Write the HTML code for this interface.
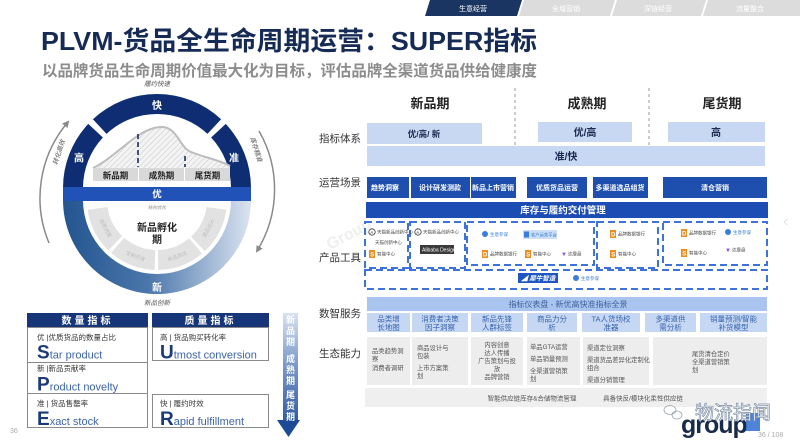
<!DOCTYPE html>
<html><head><meta charset="utf-8">
<style>
html,body{margin:0;padding:0;width:800px;height:448px;overflow:hidden;background:#fff}
svg{display:block}
text{font-family:"Liberation Sans","Noto Sans CJK SC",sans-serif}
</style></head>
<body>
<svg width="800" height="448" viewBox="0 0 800 448" xmlns="http://www.w3.org/2000/svg">
<defs>
  <pattern id="hatch" width="4" height="4" patternUnits="userSpaceOnUse" patternTransform="rotate(45)">
    <rect width="4" height="4" fill="#f3f3f3"/>
    <line x1="0" y1="0" x2="0" y2="4" stroke="#c8c8c8" stroke-width="1"/>
  </pattern>
  <linearGradient id="lowring" x1="63" y1="0" x2="251" y2="0" gradientUnits="userSpaceOnUse">
    <stop offset="0" stop-color="#24558f"/>
    <stop offset="0.45" stop-color="#4a76ab"/>
    <stop offset="1" stop-color="#dbe4f1"/>
  </linearGradient>
  <linearGradient id="varrow" x1="0" y1="313" x2="0" y2="437" gradientUnits="userSpaceOnUse">
    <stop offset="0" stop-color="#d8e2f1"/>
    <stop offset="0.4" stop-color="#7f9ccb"/>
    <stop offset="1" stop-color="#1d4a95"/>
  </linearGradient>
  <marker id="ar" markerWidth="8" markerHeight="8" refX="5" refY="4" orient="auto" markerUnits="userSpaceOnUse">
    <path d="M0,0.5 L7,4 L0,7.5 Z" fill="#8a8a8a"/>
  </marker>
</defs>

<!-- top tabs -->
<polygon points="430,0 522,0 517,16 425,16" fill="#1b3563"/>
<text x="473" y="11" font-size="7" fill="#fff" text-anchor="middle">生意经营</text>
<polygon points="524,0 615,0 610,16 519,16" fill="#dcdcdc"/>
<text x="566" y="11" font-size="7" fill="#fff" text-anchor="middle">全域营销</text>
<polygon points="617,0 706,0 701,16 612,16" fill="#dcdcdc"/>
<text x="658" y="11" font-size="7" fill="#fff" text-anchor="middle">深链经营</text>
<polygon points="708,0 800,0 800,16 703,16" fill="#dcdcdc"/>
<text x="750" y="11" font-size="7" fill="#fff" text-anchor="middle">流量整合</text>

<!-- title -->
<text x="41" y="50" font-size="26" font-weight="bold" fill="#152a55" textLength="496" lengthAdjust="spacingAndGlyphs">PLVM-货品全生命周期运营：SUPER指标</text>
<text x="42" y="76" font-size="15.5" font-weight="bold" fill="#8c8c8c" textLength="495" lengthAdjust="spacingAndGlyphs">以品牌货品生命周期价值最大化为目标，评估品牌全渠道货品供给健康度</text>

<!-- ================= LEFT CIRCLE ================= -->
<!-- gray arrows -->
<path d="M49,243 A117,117 0 0 1 68,122" fill="none" stroke="#8a8a8a" stroke-width="1.5" marker-end="url(#ar)"/>
<path d="M259,131 A117,117 0 0 1 257,251" fill="none" stroke="#8a8a8a" stroke-width="1.5" marker-end="url(#ar)"/>
<text x="157" y="86" font-size="6.5" font-style="italic" fill="#555" text-anchor="middle">履约快速</text>
<text x="157" y="305" font-size="6.5" font-style="italic" fill="#555" text-anchor="middle">新品创新</text>
<text transform="translate(61,153) rotate(-72)" font-size="6.5" font-style="italic" fill="#555" text-anchor="middle">转化高效</text>
<text transform="translate(254,150) rotate(72)" font-size="6.5" font-style="italic" fill="#555" text-anchor="middle">库存精准</text>

<!-- upper ring -->
<path d="M63,188 A94,94 0 0 1 88.25,123.89 L102.88,137.53 A74,74 0 0 0 83,188 Z" fill="#0e2d72"/>
<path d="M92.89,119.25 A94,94 0 0 1 221.11,119.25 L207.47,133.88 A74,74 0 0 0 106.53,133.88 Z" fill="#0e2d72"/>
<path d="M225.75,123.89 A94,94 0 0 1 251,188 L231,188 A74,74 0 0 0 211.12,137.53 Z" fill="#0e2d72"/>
<text x="79" y="161.5" font-size="10" font-weight="bold" fill="#fff" text-anchor="middle">高</text>
<text x="157" y="109" font-size="10" font-weight="bold" fill="#fff" text-anchor="middle">快</text>
<text x="234" y="161.5" font-size="10" font-weight="bold" fill="#fff" text-anchor="middle">准</text>

<!-- chart inside -->
<path d="M93,168 C118,156 138,127 162,127 C177,127 180,148 191,152 C206,158 220,160 230,166 L230,168 Z" fill="url(#hatch)"/>
<path d="M93,168 C118,156 138,127 162,127 C177,127 180,148 191,152 C206,158 220,160 230,166" fill="none" stroke="#bdbdbd" stroke-width="2"/>
<line x1="138" y1="134" x2="138" y2="167" stroke="#1b2d5e" stroke-width="1.6" stroke-dasharray="5 3"/>
<line x1="185" y1="156" x2="185" y2="167" stroke="#1b2d5e" stroke-width="1.6" stroke-dasharray="5 3"/>
<rect x="93" y="168" width="45" height="13" fill="#d9d9d9"/>
<rect x="139" y="168" width="45" height="13" fill="#d9d9d9"/>
<rect x="185" y="168" width="45" height="13" fill="#d9d9d9"/>
<text x="115.5" y="178.3" font-size="8.5" font-weight="bold" fill="#222" text-anchor="middle">新品期</text>
<text x="161.5" y="178.3" font-size="8.5" font-weight="bold" fill="#222" text-anchor="middle">成熟期</text>
<text x="207.5" y="178.3" font-size="8.5" font-weight="bold" fill="#222" text-anchor="middle">尾货期</text>

<!-- lower ring -->
<path d="M63,200 A94,94 0 0 0 251,200 L231,200 A74,74 0 0 1 83,200 Z" fill="url(#lowring)"/>
<text x="157" y="291" font-size="10" font-weight="bold" fill="#fff" text-anchor="middle">新</text>

<!-- bar -->
<rect x="63" y="187" width="188" height="14" fill="#2152b8"/>
<text x="157" y="197.5" font-size="9.5" font-weight="bold" fill="#fff" text-anchor="middle">优</text>

<!-- inner gray segments -->
<path d="M226.32,209.74 A70,70 0 0 1 204.74,251.2 L191.1,236.57 A50,50 0 0 0 206.52,206.96 Z" fill="#e2e2e2"/>
<path d="M202,253.62 A70,70 0 0 1 158.22,269.99 L157.87,249.99 A50,50 0 0 0 189.14,238.3 Z" fill="#e2e2e2"/>
<path d="M154.56,269.96 A70,70 0 0 1 111.07,252.83 L124.2,237.74 A50,50 0 0 0 155.25,249.97 Z" fill="#e2e2e2"/>
<path d="M108.37,250.35 A70,70 0 0 1 87.68,209.74 L107.48,206.96 A50,50 0 0 0 122.26,235.97 Z" fill="#e2e2e2"/>
<text transform="translate(210,229) rotate(-62)" font-size="5" fill="#bdbdbd" text-anchor="middle">爆品设计</text>
<text transform="translate(178,258) rotate(-21)" font-size="5" fill="#bdbdbd" text-anchor="middle">新品测试</text>
<text transform="translate(135,258) rotate(21)" font-size="5" fill="#bdbdbd" text-anchor="middle">定制开发</text>
<text transform="translate(104,229) rotate(62)" font-size="5" fill="#bdbdbd" text-anchor="middle">趋势洞察</text>
<text x="157" y="209" font-size="4.5" font-style="italic" fill="#888" text-anchor="middle">结构优化</text>
<text x="157" y="231" font-size="10" font-weight="bold" fill="#222" text-anchor="middle">新品孵化</text>
<text x="157" y="243" font-size="10" font-weight="bold" fill="#222" text-anchor="middle">期</text>

<!-- ================= LEFT TABLE ================= -->
<rect x="27" y="313" width="121" height="14" fill="#17367a"/>
<text x="87.5" y="323.8" font-size="10" font-weight="bold" fill="#fff" text-anchor="middle" letter-spacing="3">数量指标</text>
<rect x="152" y="313" width="117" height="14" fill="#17367a"/>
<text x="210.5" y="323.8" font-size="10" font-weight="bold" fill="#fff" text-anchor="middle" letter-spacing="3">质量指标</text>

<rect x="27.5" y="327.5" width="120" height="100" fill="#fff" stroke="#8a8a8a" stroke-width="1"/>
<line x1="27.5" y1="362.5" x2="147.5" y2="362.5" stroke="#8a8a8a"/>
<line x1="27.5" y1="393.5" x2="147.5" y2="393.5" stroke="#8a8a8a"/>
<rect x="152.5" y="327.5" width="116" height="33" fill="#fff" stroke="#8a8a8a"/>
<rect x="152.5" y="394.5" width="116" height="33" fill="#fff" stroke="#8a8a8a"/>

<text x="37" y="340" font-size="7.5" fill="#333">优 |优质货品的数量占比</text>
<text x="37" y="358.5"><tspan font-size="19" font-weight="bold" fill="#1b3a78">S</tspan><tspan font-size="11" fill="#3c64a8">tar product</tspan></text>
<text x="37" y="371" font-size="7.5" fill="#333">新 |新品贡献率</text>
<text x="37" y="390.5"><tspan font-size="19" font-weight="bold" fill="#1b3a78">P</tspan><tspan font-size="11" fill="#3c64a8">roduct novelty</tspan></text>
<text x="37" y="406" font-size="7.5" fill="#333">准 | 货品售罄率</text>
<text x="37" y="425"><tspan font-size="19" font-weight="bold" fill="#1b3a78">E</tspan><tspan font-size="11" fill="#3c64a8">xact stock</tspan></text>

<text x="160" y="340" font-size="7.5" fill="#333">高 | 货品购买转化率</text>
<text x="160" y="358.5"><tspan font-size="19" font-weight="bold" fill="#1b3a78">U</tspan><tspan font-size="11" fill="#3c64a8">tmost conversion</tspan></text>
<text x="160" y="406" font-size="7.5" fill="#333">快 | 履约时效</text>
<text x="160" y="425"><tspan font-size="19" font-weight="bold" fill="#1b3a78">R</tspan><tspan font-size="11" fill="#3c64a8">apid fulfillment</tspan></text>

<!-- vertical arrow -->
<rect x="283" y="313" width="15" height="107" fill="url(#varrow)"/>
<polygon points="277,420 300,420 288.5,437" fill="#1d4a95"/>
<g font-size="9" font-weight="bold" fill="#fff" text-anchor="middle">
<text x="290.5" y="323">新</text><text x="290.5" y="334">品</text><text x="290.5" y="345">期</text>
<text x="290.5" y="362">成</text><text x="290.5" y="373">熟</text><text x="290.5" y="384">期</text>
<text x="290.5" y="398">尾</text><text x="290.5" y="409">货</text><text x="290.5" y="420">期</text>
</g>

<text x="10" y="433" font-size="7" fill="#aaa">36</text>

<!-- ================= RIGHT SECTION ================= -->
<text transform="translate(330,250) rotate(-28)" font-size="16" fill="#efefef" font-weight="bold">Group</text>

<line x1="515" y1="88" x2="515" y2="146" stroke="#9a9a9a" stroke-width="1" stroke-dasharray="3 3"/>
<line x1="649" y1="88" x2="649" y2="152" stroke="#9a9a9a" stroke-width="1" stroke-dasharray="3 3"/>

<text x="430" y="108" font-size="13" font-weight="bold" fill="#222" text-anchor="middle">新品期</text>
<text x="587" y="108" font-size="13" font-weight="bold" fill="#222" text-anchor="middle">成熟期</text>
<text x="722" y="108" font-size="13" font-weight="bold" fill="#222" text-anchor="middle">尾货期</text>

<g font-size="10.5" fill="#333">
<text x="319" y="142">指标体系</text>
<text x="319" y="186">运营场景</text>
<text x="319" y="261">产品工具</text>
<text x="319" y="317">数智服务</text>
<text x="319" y="357">生态能力</text>
</g>

<!-- index system -->
<rect x="367" y="123" width="115" height="21" fill="#c8d8f2"/>
<text x="424" y="137" font-size="8.5" font-weight="bold" fill="#1a2a50" text-anchor="middle">优/高/ 新</text>
<rect x="538" y="122" width="94" height="20" fill="#c8d8f2"/>
<text x="585" y="136" font-size="10" font-weight="bold" fill="#1a2a50" text-anchor="middle">优/高</text>
<rect x="668" y="122" width="97" height="20" fill="#c8d8f2"/>
<text x="716" y="136" font-size="10" font-weight="bold" fill="#1a2a50" text-anchor="middle">高</text>
<rect x="367" y="146" width="398" height="20" fill="#c8d8f2"/>
<text x="566" y="160" font-size="10" font-weight="bold" fill="#1a2a50" text-anchor="middle">准/快</text>

<!-- ops scenes -->
<g fill="#1e4fae">
<rect x="367" y="177" width="42" height="21"/>
<rect x="411" y="177" width="59" height="21"/>
<rect x="471" y="177" width="45" height="21"/>
<rect x="527" y="177" width="60" height="21"/>
<rect x="593" y="177" width="55" height="21"/>
<rect x="663" y="177" width="104" height="21"/>
</g>
<g font-size="7" font-weight="bold" fill="#fff" text-anchor="middle">
<text x="385" y="190">趋势洞察</text>
<text x="440" y="190">设计研发测款</text>
<text x="493" y="190">新品上市营销</text>
<text x="557" y="190">优质货品运营</text>
<text x="620" y="190">多渠道选品组货</text>
<text x="715" y="190">清仓营销</text>
</g>

<rect x="366" y="202" width="402" height="16" fill="#1b4db4"/>
<text x="563" y="213.5" font-size="9.5" font-weight="bold" fill="#fff" text-anchor="middle">库存与履约交付管理</text>

<!-- product tools dashed boxes -->
<g fill="none" stroke="#3d72d9" stroke-width="2" stroke-dasharray="7 4">
<rect x="365" y="222" width="43" height="46"/>
<rect x="410" y="222" width="55" height="46"/>
<rect x="467" y="222" width="127" height="43"/>
<rect x="597" y="222" width="61" height="46"/>
<rect x="663" y="222" width="104" height="43"/>
<rect x="365" y="270" width="402" height="19"/>
</g>

<!-- logos -->
<g font-size="4.5" fill="#444">
<!-- box A -->
<circle cx="372" cy="232" r="3.2" fill="none" stroke="#333" stroke-width="0.8"/>
<text x="370.3" y="233.8" font-size="4.5" fill="#333">A</text>
<text x="377" y="233.5">天猫新品创新中心</text>
<text x="375" y="244">天猫创新中心</text>
<rect x="369" y="250" width="6" height="8" fill="#f08c1e"/>
<text x="370.3" y="256.5" font-size="6" font-weight="bold" fill="#fff">S</text>
<text x="377" y="255.5">智能中心</text>
<!-- box B -->
<circle cx="418" cy="232" r="3.2" fill="none" stroke="#333" stroke-width="0.8"/>
<text x="416.3" y="233.8" font-size="4.5" fill="#333">A</text>
<text x="423" y="233.5">天猫新品创新中心</text>
<rect x="420" y="245" width="34" height="9" fill="#3a3a3a"/>
<text x="422" y="251.5" font-size="5" fill="#fff">Alibaba Design</text>
<!-- box C -->
<circle cx="485" cy="234" r="3" fill="#3b7ddd"/>
<text x="490" y="236" fill="#3b7ddd">生意参谋</text>
<rect x="523" y="230" width="34" height="9" fill="#cddff7"/>
<rect x="524" y="231.5" width="5" height="6" fill="#3b7ddd"/>
<text x="531" y="236.5" fill="#3b7ddd" font-size="4.3">客户运营平台</text>
<rect x="482" y="250" width="6" height="8" fill="#f08c1e"/>
<text x="483" y="256.5" font-size="6" font-weight="bold" fill="#fff">D</text>
<text x="490" y="255.5">品牌数据银行</text>
<rect x="525" y="250" width="6" height="8" fill="#f08c1e"/>
<text x="526.3" y="256.5" font-size="6" font-weight="bold" fill="#fff">S</text>
<text x="533" y="255.5">智能中心</text>
<text x="561" y="256" font-size="6" fill="#8a4dd8">▼</text>
<text x="568" y="255.5">达摩盘</text>
<!-- box D -->
<rect x="610" y="230" width="6" height="8" fill="#f08c1e"/>
<text x="611" y="236.5" font-size="6" font-weight="bold" fill="#fff">D</text>
<text x="618" y="235.5">品牌数据银行</text>
<rect x="610" y="250" width="6" height="8" fill="#f08c1e"/>
<text x="611.3" y="256.5" font-size="6" font-weight="bold" fill="#fff">S</text>
<text x="618" y="255.5">智能中心</text>
<!-- box E -->
<rect x="681" y="229" width="6" height="8" fill="#f08c1e"/>
<text x="682" y="235.5" font-size="6" font-weight="bold" fill="#fff">D</text>
<text x="689" y="234.5">品牌数据银行</text>
<circle cx="728" cy="232" r="3" fill="#3b7ddd"/>
<text x="733" y="234" fill="#3b7ddd">生意参谋</text>
<rect x="681" y="249" width="6" height="8" fill="#f08c1e"/>
<text x="682.3" y="255.5" font-size="6" font-weight="bold" fill="#fff">S</text>
<text x="689" y="254.5">智能中心</text>
<text x="725" y="252" font-size="6" fill="#8a4dd8">▼</text>
<text x="732" y="251.5">达摩盘</text>
<!-- bottom dashed -->
<rect x="518" y="273" width="40" height="10" fill="#1f56c0"/>
<text x="521" y="280.5" font-size="6.5" font-style="italic" font-weight="bold" fill="#fff">◢ 犀牛智造</text>
<circle cx="576" cy="278" r="3" fill="#3b7ddd"/>
<text x="581" y="280" fill="#3b7ddd">生意参谋</text>
</g>

<!-- data services -->
<rect x="367" y="297" width="400" height="14" fill="#a9c4ef"/>
<text x="568" y="307" font-size="8" fill="#3f5f98" text-anchor="middle">指标仪表盘 - 新优高快准指标全景</text>
<g fill="#c6d7f3">
<rect x="367" y="313" width="43" height="19"/>
<rect x="412" y="313" width="56" height="19"/>
<rect x="471" y="313" width="52" height="19"/>
<rect x="527" y="313" width="50" height="19"/>
<rect x="582" y="313" width="58" height="19"/>
<rect x="645" y="313" width="51" height="19"/>
<rect x="700" y="313" width="67" height="19"/>
</g>
<g font-size="7.5" fill="#3563ad" text-anchor="middle">
<text x="388.5" y="321.5">品类增</text><text x="388.5" y="330">长地图</text>
<text x="440" y="321.5">消费者决策</text><text x="440" y="330">因子洞察</text>
<text x="497" y="321.5">新品先锋</text><text x="497" y="330">人群标签</text>
<text x="552" y="321.5">商品力分</text><text x="552" y="330">析</text>
<text x="611" y="321.5">TA人货场校</text><text x="611" y="330">准器</text>
<text x="670.5" y="321.5">多渠道供</text><text x="670.5" y="330">需分析</text>
<text x="733.5" y="321.5">销量预测/智能</text><text x="733.5" y="330">补货模型</text>
</g>

<!-- ecosystem -->
<g fill="#ededed">
<rect x="367" y="337" width="43" height="48"/>
<rect x="412" y="337" width="56" height="48"/>
<rect x="471" y="337" width="52" height="48"/>
<rect x="527" y="337" width="53" height="48"/>
<rect x="583" y="337" width="66" height="48"/>
<rect x="653" y="337" width="114" height="48"/>
</g>
<g font-size="6.3" fill="#555">
<text x="372" y="353">品类趋势洞</text><text x="372" y="361">察</text><text x="372" y="370">消费者调研</text>
<text x="417" y="350">商品设计与</text><text x="417" y="358">包装</text><text x="417" y="370">上市方案策</text><text x="417" y="378">划</text>
<g text-anchor="middle">
<text x="497" y="347">内容创意</text><text x="497" y="355">达人传播</text><text x="497" y="363">广告策划与投</text><text x="497" y="371">放</text><text x="497" y="379">品牌营销</text>
</g>
<text x="530" y="349">单品GTA运营</text><text x="530" y="361">单品销量预测</text><text x="530" y="373">全渠道营销策</text><text x="530" y="381">划</text>
<text x="587" y="350">渠道定位洞察</text><text x="587" y="362">渠道货品差异化定制化</text><text x="587" y="370">组合</text><text x="587" y="382">渠道分销管理</text>
<text x="692" y="356">尾货清仓定价</text><text x="692" y="364">全渠道营销策</text><text x="692" y="372">划</text>
</g>
<rect x="365" y="388" width="402" height="19" fill="#efefef"/>
<text x="532" y="400.5" font-size="6.5" fill="#555" text-anchor="middle">智能供应链库存&amp;合储物流管理</text>
<text x="643" y="400.5" font-size="6.5" fill="#555" text-anchor="middle">具备快反/模块化柔性供应链</text>

<!-- right chevron -->
<text x="783" y="226" font-size="16" fill="#e4e4e4">‹</text>

<!-- watermark / logo -->
<ellipse cx="670" cy="410" rx="6" ry="4.5" fill="none" stroke="#9aa4b0" stroke-width="0.8"/>
<ellipse cx="677" cy="415" rx="5" ry="4" fill="none" stroke="#9aa4b0" stroke-width="0.8"/>
<text x="681" y="433" font-size="25" font-weight="bold" fill="#1a2a4a" letter-spacing="-1">group</text>
<rect x="746" y="413" width="14" height="18" fill="#2e6fd0" opacity="0.85"/>
<text x="695" y="419" font-size="19" fill="#ffffff" stroke="#7d8fa6" stroke-width="0.7">物流指闻</text>
<text x="758" y="437" font-size="7" fill="#aaa">36 / 108</text>
</svg>
</body></html>
